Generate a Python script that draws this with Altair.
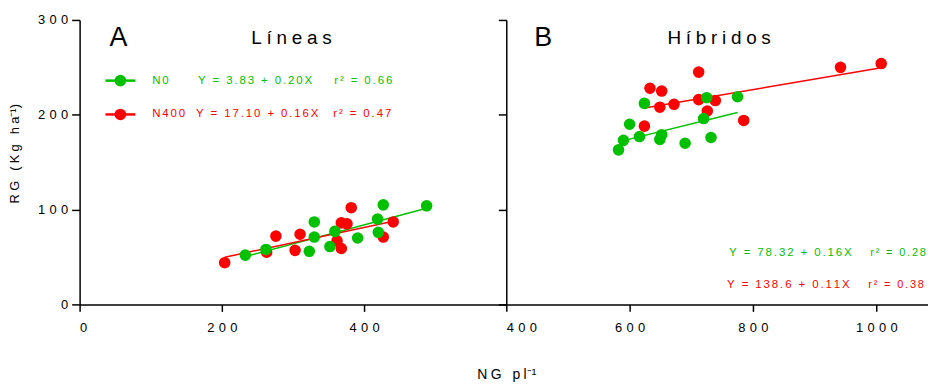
import altair as alt
import pandas as pd

FONT = "Liberation Sans"
GREEN = "#00c000"
RED = "#ff0000"

# ---------------- data ----------------
lin_n0_x = [233, 262, 323, 330, 330, 352, 359, 391, 419, 420, 427, 488]
lin_n0_y = [52, 58, 56, 87, 71, 61, 77, 70, 90, 76, 105, 104]
lin_n400_x = [204, 263, 276, 303, 310, 362, 368, 368, 376, 382, 427, 441]
lin_n400_y = [44, 55, 72, 57, 74, 67, 59, 86, 85, 102, 71, 87]

hib_n0_x = [582, 590, 600, 616, 624, 649, 652, 690, 720, 725, 732, 775]
hib_n0_y = [163, 173, 190, 177, 212, 174, 179, 170, 196, 218, 176, 219]
hib_n400_x = [624, 633, 649, 652, 672, 712, 712, 726, 739, 785, 942, 1008]
hib_n400_y = [188, 228, 208, 225, 211, 245, 216, 204, 215, 194, 250, 254]

# regression coefficients printed on the chart
fits = {
    ("Líneas", "N0"): (3.83, 0.20),
    ("Líneas", "N400"): (17.10, 0.16),
    ("Híbridos", "N0"): (78.32, 0.16),
    ("Híbridos", "N400"): (138.6, 0.11),
}
groups = ["N0", "N400"]
eq_lin = ["Y = 3.83 + 0.20X", "Y = 17.10 + 0.16X"]
r2_lin = ["r² = 0.66", "r² = 0.47"]
eq_hib = ["Y = 78.32 + 0.16X", "Y = 138.6 + 0.11X"]
r2_hib = ["r² = 0.28", "r² = 0.38"]
left_ticks = [0, 200, 400]
right_ticks = [400, 600, 800, 1000]
y_ticks = [0, 100, 200, 300]

rows = []
for panel, g, xs, ys in [
    ("Líneas", "N400", lin_n400_x, lin_n400_y),
    ("Líneas", "N0", lin_n0_x, lin_n0_y),
    ("Híbridos", "N400", hib_n400_x, hib_n400_y),
    ("Híbridos", "N0", hib_n0_x, hib_n0_y),
]:
    for xv, yv in zip(xs, ys):
        rows.append({"panel": panel, "grupo": g, "x": xv, "y": yv})
pts = pd.DataFrame(rows)

lrows = []
for (panel, g), (a, b) in fits.items():
    sub = pts[(pts.panel == panel) & (pts.grupo == g)]
    for xv in (sub.x.min(), sub.x.max()):
        lrows.append({"panel": panel, "grupo": g, "x": xv, "y": a + b * xv})
lines = pd.DataFrame(lrows)

one = pd.DataFrame({"k": [0]})

def sp(s, sep="\u2006"):
    return sep.join(s)

color = alt.Color("grupo:N", scale=alt.Scale(domain=groups, range=[GREEN, RED]), legend=None)

def txt(t, x, y, c="black", size=12, align="left"):
    return alt.Chart(one).mark_text(
        text=t, font=FONT, fontSize=size, color=c, align=align, baseline="middle"
    ).encode(x=alt.value(x), y=alt.value(y))

LBL = "join(split(datum.label, ''), '\u2004')"

W_L, W_R, H = 429, 424, 286

def panel(name, domain, ticks, width, left):
    if left:
        xaxis = alt.Axis(values=ticks, format="d", labelExpr=LBL, tickSize=7,
                         labelPadding=10, labelFontSize=13,
                         title=sp("NG pl", "\u2005") + "⁻¹",
                         titleX=width, titleY=70, titleAlign="center",
                         titleBaseline="middle", titleFontSize=14,
                         titleFontWeight="normal")
        yaxis = alt.Axis(values=y_ticks, format="d", labelExpr=LBL, tickSize=8,
                         labelPadding=4, labelFontSize=13,
                         title=sp("RG (Kg ha", "\u2005") + "⁻¹)", titleFontSize=13,
                         titleFontWeight="normal", titlePadding=16, titleY=134,
                         titleAlign="center")
    else:
        xaxis = alt.Axis(values=ticks, format="d", labelExpr=LBL, tickSize=7,
                         labelPadding=10, labelFontSize=13, title=None)
        yaxis = alt.Axis(values=y_ticks, labels=False, tickSize=8, title=None)
    x = alt.X("x:Q", scale=alt.Scale(domain=domain, nice=False, zero=False), axis=xaxis)
    y = alt.Y("y:Q", scale=alt.Scale(domain=[0, 300], nice=False), axis=yaxis)
    ln = alt.Chart(lines[lines.panel == name]).mark_line(strokeWidth=1.5).encode(
        x=x, y=y, color=color, detail="grupo:N")
    pt = alt.Chart(pts[pts.panel == name]).mark_circle(size=135, opacity=1).encode(
        x=x, y=y, color=color)
    return [ln, pt]

left_layers = panel("Líneas", [0, 600], left_ticks, W_L, True)
left_layers += [
    txt("A", 39, 18, size=27, align="center"),
    txt(sp("Líneas", "\u2005"), 213, 18, size=19, align="center"),
    alt.Chart(one).mark_rule(color=GREEN, strokeWidth=2.5).encode(
        x=alt.value(26), x2=alt.value(56), y=alt.value(61)),
    alt.Chart(one).mark_circle(color=GREEN, size=135, opacity=1).encode(
        x=alt.value(41), y=alt.value(61)),
    alt.Chart(one).mark_rule(color=RED, strokeWidth=2.5).encode(
        x=alt.value(26), x2=alt.value(56), y=alt.value(95)),
    alt.Chart(one).mark_circle(color=RED, size=135, opacity=1).encode(
        x=alt.value(41), y=alt.value(95)),
    txt(sp(groups[0]), 73, 61, GREEN, 11.5),
    txt(sp(eq_lin[0]), 119, 61, GREEN, 11.5),
    txt(sp(r2_lin[0]), 256, 61, GREEN, 11.5),
    txt(sp(groups[1]), 73, 95, RED, 11.5),
    txt(sp(eq_lin[1]), 117, 95, RED, 11.5),
    txt(sp(r2_lin[1]), 255, 95, RED, 11.5),
]
left = alt.layer(*left_layers).properties(width=W_L, height=H)

right_layers = panel("Híbridos", [400, 400 + W_R / 0.62], right_ticks, W_R, False)
right_layers += [
    txt("B", 37, 18, size=27, align="center"),
    txt(sp("Híbridos", "\u2005"), 214, 18, size=19, align="center"),
    txt(sp(eq_hib[0]), 224, 234, GREEN, 11.5),
    txt(sp(r2_hib[0]), 366, 234, GREEN, 11),
    txt(sp(eq_hib[1]), 222, 267, RED, 11.5),
    txt(sp(r2_hib[1]), 364, 267, RED, 11),
]
right = alt.layer(*right_layers).properties(width=W_R, height=H)

chart = alt.hconcat(left, right, spacing=0, bounds="flush").properties(
    padding={"left": 0, "top": 5, "right": 0, "bottom": 0}
).configure_view(stroke=None).configure_axis(
    grid=False, domainColor="black", tickColor="black", labelColor="black",
    titleColor="black", domainWidth=1.5, tickWidth=1.5, labelFont=FONT,
    titleFont=FONT
)

chart.save("out.html", embed_options={"renderer": "svg", "actions": False})
